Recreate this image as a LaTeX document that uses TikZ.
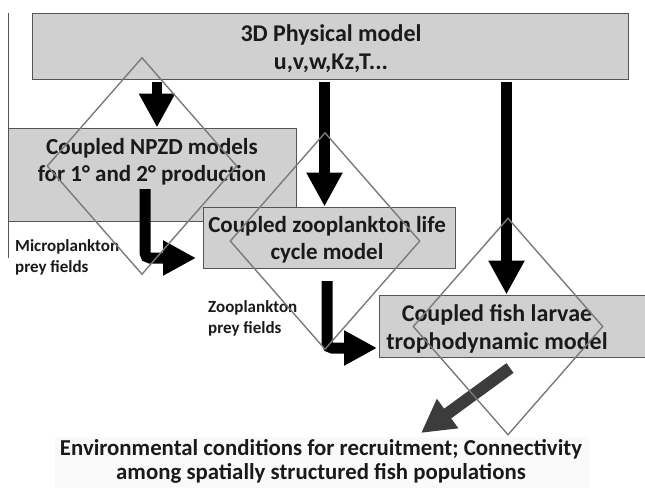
\documentclass[tikz,border=0pt]{standalone}
\usepackage{fontspec}
\setmainfont{Carlito}
\usetikzlibrary{arrows.meta,shapes.geometric}
\definecolor{boxfill}{HTML}{D0D0D0}
\definecolor{boxline}{HTML}{555555}
\definecolor{dialine}{HTML}{7A7A7A}
\definecolor{darkarr}{HTML}{3C3C3C}
\definecolor{txtcol}{HTML}{1A1A1A}
\definecolor{faint}{HTML}{FAFAFA}
\begin{document}
\begin{tikzpicture}[x=1pt,y=-1pt,
  box/.style={draw=boxline, line width=1pt, fill=boxfill, inner sep=0pt},
  maintxt/.style={align=center, text=txtcol, inner sep=0pt,
    font=\bfseries\fontsize{23}{27.5}\selectfont},
  bigtxt/.style={align=center, text=txtcol, inner sep=0pt,
    font=\bfseries\fontsize{24}{28.5}\selectfont},
  smalltxt/.style={align=left, anchor=west, text=txtcol, inner sep=0pt,
    font=\bfseries\fontsize{17}{21}\selectfont},
  bottomtxt/.style={align=center, text=txtcol, inner sep=0pt,
    font=\bfseries\fontsize{22.8}{23.5}\selectfont},
  dia/.style={diamond, draw=dialine, line width=1.4pt, inner sep=0pt,
    minimum width=190pt, minimum height=217pt},
  arr/.style={line width=10.5pt, -{Triangle[length=34pt,width=34pt]}, shorten <=2pt},
  bentarr/.style={line width=11pt, rounded corners=5pt, -{Triangle[length=33pt,width=33pt]}},
  diagarr/.style={draw=darkarr, line width=12pt, -{Triangle[length=33pt,width=34pt]}}
]
\useasboundingbox (0,0) rectangle (645,488);
\clip (0,0) rectangle (645,488);

% faint background of the caption
\fill[faint] (55,437) rectangle (590,488);

% left rule
\coordinate (ruletop) at (8,13);
\coordinate (rulebot) at (8,258);
\draw[boxline, line width=1pt] (ruletop) -- (rulebot);

% boxes
\node[box, minimum width=596pt, minimum height=66pt] (phys) at (330,46) {};
\node[box, minimum width=288pt, minimum height=93pt] (npzd) at (152,174.5) {};
\node[box, minimum width=252pt, minimum height=61pt] (zoo) at (329,237.5) {};
\node[box, minimum width=272pt, minimum height=62pt] (fish) at (515,326) {};

% box texts
\node[bigtxt] (physt) at (331,48.5) {3D Physical model\\u,v,w,Kz,T...};
\node[maintxt] (npzdt) at (152,161.5) {Coupled NPZD models\\for 1° and 2° production};
\node[maintxt] (zoot) at (327,239.5) {Coupled zooplankton life\\cycle model};
\node[bigtxt] (fisht) at (497,329) {Coupled fish larvae\\trophodynamic model};

% side labels
\node[smalltxt] (micro) at (15,257) {Microplankton\\prey fields};
\node[smalltxt] (zoopl) at (208,318.5) {Zooplankton\\prey fields};

% bottom caption
\node[bottomtxt] (outcome) at (321,461.5) {Environmental conditions for recruitment; Connectivity\\among spatially structured fish populations};

% straight arrows from the physical model
\coordinate (a1x) at (157,0);
\coordinate (a2x) at (324.5,0);
\coordinate (a3x) at (506.5,0);
\draw[arr] (phys.south -| a1x) -- (npzd.north -| a1x);
\draw[arr] (phys.south -| a2x) -- (zoo.north -| a2x);
\draw[arr] (phys.south -| a3x) -- (fish.north -| a3x);

% bent arrows (prey fields)
\coordinate (b1s) at (145,189);
\coordinate (b1e) at (196,258);
\draw[bentarr] (b1s) |- (b1e);
\coordinate (b2s) at (327,281);
\coordinate (b2e) at (377,348);
\draw[bentarr] (b2s) |- (b2e);

% output arrow
\coordinate (cs) at (510,368);
\coordinate (ce) at (421,433);
\draw[diagarr] (cs) -- (ce);

% overlaid diamonds
\node[dia] (d1) at (142,166) {};
\node[dia] (d2) at (325,241) {};
\node[dia] (d3) at (508,326.5) {};
\end{tikzpicture}
\end{document}
